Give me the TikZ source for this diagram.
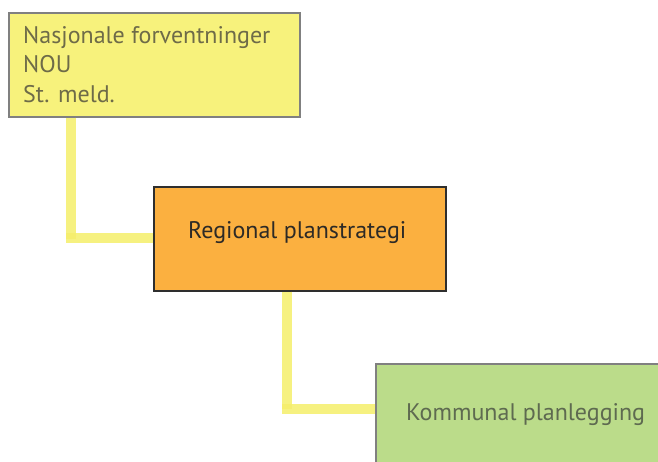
\documentclass[tikz,border=0pt]{standalone}
\usepackage{fontspec}
\setmainfont{PT Sans}
\definecolor{natfill}{HTML}{F7F27C}
\definecolor{regfill}{HTML}{FBB040}
\definecolor{komfill}{HTML}{BBDC8A}
\definecolor{boxgray}{HTML}{808080}
\definecolor{boxdark}{HTML}{2E2E2E}
\definecolor{nattext}{HTML}{6E6B48}
\definecolor{regtext}{HTML}{2D2A26}
\definecolor{komtext}{HTML}{5E6A50}
\definecolor{linkyellow}{HTML}{F5EE6A}
\begin{document}
\begin{tikzpicture}[x=1pt,y=-1pt,
  planbox/.style={draw, line width=1.6pt, rectangle, inner sep=0pt, anchor=north west},
  boxtext/.style={font=\fontsize{24}{29.5}\selectfont, anchor=base west, inner sep=0pt, align=left},
  link/.style={draw=linkyellow, line width=10pt, opacity=0.85}]
  \useasboundingbox (0,0) rectangle (658,461);
  \clip (0,0) rectangle (658,461);

  % boxes
  \node[planbox, draw=boxgray, fill=natfill, minimum width=291pt, minimum height=104pt] (nat) at (8,12) {};
  \node[planbox, draw=boxdark, fill=regfill, minimum width=292pt, minimum height=104pt] (reg) at (153,186) {};
  \node[planbox, draw=boxgray, fill=komfill, minimum width=300pt, minimum height=110pt] (kom) at (375,363) {};

  % labels (a multi-line label sits on its last baseline)
  \node[boxtext, text=nattext] (nattxt) at (23,102) {Nasjonale forventninger\\NOU\\St. meld.};
  \node[boxtext, text=regtext] (regtxt) at (188,238) {Regional planstrategi};
  \node[boxtext, text=komtext] (komtxt) at (406,420) {Kommunal planlegging};

  % connector bend points
  \coordinate (c1) at (71,238);
  \coordinate (c2) at (287,409);

  % connectors, each drawn as two overlapping strokes
  \path[link] (nat.south -| c1) -- ([yshift=-1pt]c1);
  \path[link] ([xshift=-5pt]c1) -- (reg.west |- c1);
  \path[link] (reg.south -| c2) -- (c2);
  \path[link] ([xshift=-5pt]c2) -- (kom.west |- c2);
\end{tikzpicture}
\end{document}
